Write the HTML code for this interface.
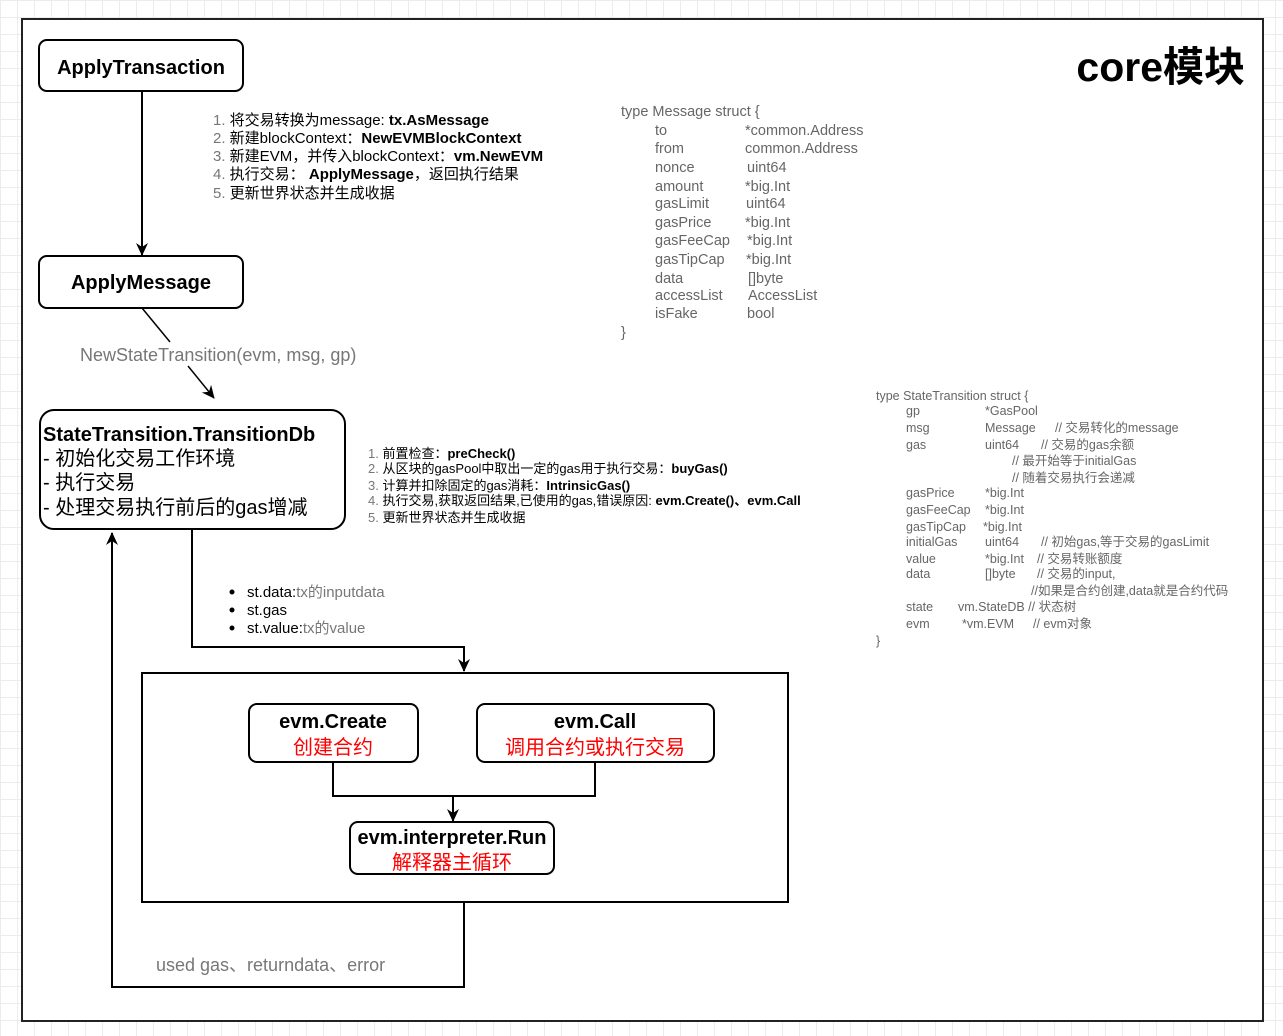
<!DOCTYPE html>
<html><head><meta charset="utf-8"><style>
body{margin:0;width:1283px;height:1036px;overflow:hidden;background:#fff;
background-image:linear-gradient(#ececec 1px,transparent 1px),linear-gradient(90deg,#ececec 1px,transparent 1px);background-size:17px 17px;}
svg{position:absolute;left:0;top:0}
text{font-family:"Liberation Sans","Noto Sans CJK SC",sans-serif;white-space:pre}
</style></head><body>
<svg width="1283" height="1036" viewBox="0 0 1283 1036" xml:space="preserve">
<defs><marker id="a" markerWidth="14" markerHeight="14" refX="12" refY="7" orient="auto" markerUnits="userSpaceOnUse"><path d="M0,1 L13,7 L0,13 L4,7 Z" fill="#000"/></marker></defs>
<rect x="22" y="19" width="1241" height="1002" fill="#fff" stroke="#222" stroke-width="2"/>
<text x="1245" y="81" text-anchor="end" font-size="41" font-weight="bold">core模块</text>

<rect x="39" y="40" width="204" height="51" rx="8" fill="#fff" stroke="#000" stroke-width="2"/>
<text x="141" y="74" text-anchor="middle" font-size="20" font-weight="bold">ApplyTransaction</text>
<line x1="142" y1="91" x2="142" y2="255" stroke="#000" stroke-width="2" marker-end="url(#a)"/>
<rect x="39" y="256" width="204" height="52" rx="8" fill="#fff" stroke="#000" stroke-width="2"/>
<text x="141" y="289" text-anchor="middle" font-size="20" font-weight="bold">ApplyMessage</text>

<g font-size="15">
<text x="213" y="125"><tspan fill="#777">1.</tspan> 将交易转换为message: <tspan font-weight="bold">tx.AsMessage</tspan></text>
<text x="213" y="143"><tspan fill="#777">2.</tspan> 新建blockContext：<tspan font-weight="bold">NewEVMBlockContext</tspan></text>
<text x="213" y="161"><tspan fill="#777">3.</tspan> 新建EVM，并传入blockContext：<tspan font-weight="bold">vm.NewEVM</tspan></text>
<text x="213" y="179"><tspan fill="#777">4.</tspan> 执行交易： <tspan font-weight="bold">ApplyMessage</tspan>，返回执行结果</text>
<text x="213" y="198"><tspan fill="#777">5.</tspan> 更新世界状态并生成收据</text>
</g>

<line x1="142" y1="308" x2="170" y2="342" stroke="#000" stroke-width="1.5"/>
<text x="80" y="361" font-size="18" fill="#777">NewStateTransition(evm, msg, gp)</text>
<line x1="188" y1="366" x2="214" y2="398" stroke="#000" stroke-width="1.5" marker-end="url(#a)"/>

<rect x="40" y="410" width="305" height="119" rx="14" fill="#fff" stroke="#000" stroke-width="2"/>
<text x="43" y="441" font-size="20" font-weight="bold">StateTransition.TransitionDb</text>
<text x="43" y="465" font-size="20">- 初始化交易工作环境</text>
<text x="43" y="489" font-size="20">- 执行交易</text>
<text x="43" y="514" font-size="20">- 处理交易执行前后的gas增减</text>

<g font-size="13">
<text x="368" y="458"><tspan fill="#777">1.</tspan> 前置检查：<tspan font-weight="bold">preCheck()</tspan></text>
<text x="368" y="473"><tspan fill="#777">2.</tspan> 从区块的gasPool中取出一定的gas用于执行交易：<tspan font-weight="bold">buyGas()</tspan></text>
<text x="368" y="490"><tspan fill="#777">3.</tspan> 计算并扣除固定的gas消耗：<tspan font-weight="bold">IntrinsicGas()</tspan></text>
<text x="368" y="505"><tspan fill="#777">4.</tspan> 执行交易,获取返回结果,已使用的gas,错误原因: <tspan font-weight="bold">evm.Create()、evm.Call</tspan></text>
<text x="368" y="522"><tspan fill="#777">5.</tspan> 更新世界状态并生成收据</text>
</g>

<polyline points="192,529 192,647 464,647 464,671" fill="none" stroke="#000" stroke-width="2" marker-end="url(#a)"/>
<g font-size="15">
<circle cx="232" cy="592" r="2.5"/><text x="247" y="597">st.data:<tspan fill="#777">tx的inputdata</tspan></text>
<circle cx="232" cy="610" r="2.5"/><text x="247" y="615">st.gas</text>
<circle cx="232" cy="628" r="2.5"/><text x="247" y="633">st.value:<tspan fill="#777">tx的value</tspan></text>
</g>

<rect x="142" y="673" width="646" height="229" fill="#fff" stroke="#000" stroke-width="2"/>
<rect x="249" y="704" width="169" height="58" rx="8" fill="#fff" stroke="#000" stroke-width="2"/>
<text x="333" y="728" text-anchor="middle" font-size="20" font-weight="bold">evm.Create</text>
<text x="333" y="754" text-anchor="middle" font-size="20" fill="#f00">创建合约</text>
<rect x="477" y="704" width="237" height="58" rx="8" fill="#fff" stroke="#000" stroke-width="2"/>
<text x="595" y="728" text-anchor="middle" font-size="20" font-weight="bold">evm.Call</text>
<text x="595" y="754" text-anchor="middle" font-size="20" fill="#f00">调用合约或执行交易</text>
<polyline points="333,762 333,796 595,796 595,762" fill="none" stroke="#000" stroke-width="2"/>
<line x1="453" y1="796" x2="453" y2="821" stroke="#000" stroke-width="2" marker-end="url(#a)"/>
<rect x="350" y="822" width="204" height="52" rx="8" fill="#fff" stroke="#000" stroke-width="2"/>
<text x="452" y="844" text-anchor="middle" font-size="20" font-weight="bold">evm.interpreter.Run</text>
<text x="452" y="869" text-anchor="middle" font-size="20" fill="#f00">解释器主循环</text>

<polyline points="464,902 464,987 112,987 112,533" fill="none" stroke="#000" stroke-width="2" marker-end="url(#a)"/>
<text x="156" y="971" font-size="18" fill="#777">used gas、returndata、error</text>

<g font-size="14.5" fill="#666">
<text x="621" y="116">type Message struct {</text>
<text x="655" y="135">to</text><text x="745" y="135">*common.Address</text>
<text x="655" y="153">from</text><text x="745" y="153">common.Address</text>
<text x="655" y="172">nonce</text><text x="747" y="172">uint64</text>
<text x="655" y="191">amount</text><text x="745" y="191">*big.Int</text>
<text x="655" y="208">gasLimit</text><text x="746" y="208">uint64</text>
<text x="655" y="227">gasPrice</text><text x="745" y="227">*big.Int</text>
<text x="655" y="245">gasFeeCap</text><text x="747" y="245">*big.Int</text>
<text x="655" y="264">gasTipCap</text><text x="746" y="264">*big.Int</text>
<text x="655" y="283">data</text><text x="748" y="283">[]byte</text>
<text x="655" y="300">accessList</text><text x="748" y="300">AccessList</text>
<text x="655" y="318">isFake</text><text x="747" y="318">bool</text>
<text x="621" y="337">}</text>
</g>

<g font-size="12.5" fill="#666">
<text x="876" y="400">type StateTransition struct {</text>
<text x="906" y="415">gp</text><text x="985" y="415">*GasPool</text>
<text x="906" y="432">msg</text><text x="985" y="432">Message</text><text x="1055" y="432">// 交易转化的message</text>
<text x="906" y="449">gas</text><text x="985" y="449">uint64</text><text x="1041" y="449">// 交易的gas余额</text>
<text x="1012" y="465">// 最开始等于initialGas</text>
<text x="1012" y="482">// 随着交易执行会递减</text>
<text x="906" y="497">gasPrice</text><text x="985" y="497">*big.Int</text>
<text x="906" y="514">gasFeeCap</text><text x="985" y="514">*big.Int</text>
<text x="906" y="531">gasTipCap</text><text x="983" y="531">*big.Int</text>
<text x="906" y="546">initialGas</text><text x="985" y="546">uint64</text><text x="1041" y="546">// 初始gas,等于交易的gasLimit</text>
<text x="906" y="563">value</text><text x="985" y="563">*big.Int</text><text x="1037" y="563">// 交易转账额度</text>
<text x="906" y="578">data</text><text x="985" y="578">[]byte</text><text x="1037" y="578">// 交易的input,</text>
<text x="1031" y="595">//如果是合约创建,data就是合约代码</text>
<text x="906" y="611">state</text><text x="958" y="611">vm.StateDB // 状态树</text>
<text x="906" y="628">evm</text><text x="962" y="628">*vm.EVM</text><text x="1033" y="628">// evm对象</text>
<text x="876" y="645">}</text>
</g>
</svg>
</body></html>
